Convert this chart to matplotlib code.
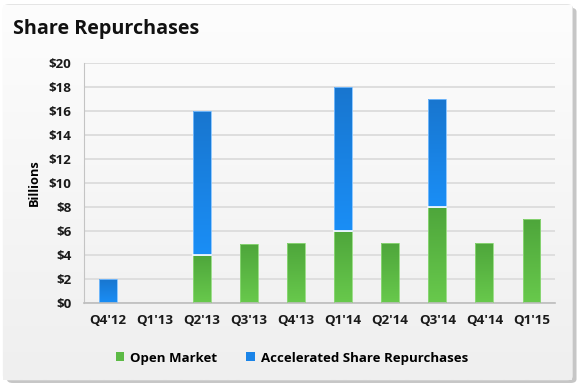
import numpy as np
import matplotlib
matplotlib.use("Agg")
import matplotlib.pyplot as plt
from matplotlib.patches import FancyBboxPatch, Patch
from matplotlib.colors import LinearSegmentedColormap

# values in $ billions
quarters = ["Q4'12", "Q1'13", "Q2'13", "Q3'13", "Q4'13",
            "Q1'14", "Q2'14", "Q3'14", "Q4'14", "Q1'15"]
open_market = [0, 0, 4, 4.9, 5, 6, 5, 8, 5, 7]
accelerated = [2, 0, 12, 0, 0, 12, 0, 9, 0, 0]
yticks = [0, 2, 4, 6, 8, 10, 12, 14, 16, 18, 20]

plt.rcParams['font.family'] = ['Open Sans', 'DejaVu Sans']
plt.rcParams['font.weight'] = 'bold'

fig = plt.figure(figsize=(5.8, 3.9), dpi=100)
fig.patch.set_facecolor('white')

# card background with shadow
shadow = FancyBboxPatch((0.012, 0.018), 0.982, 0.962, boxstyle="round,pad=0,rounding_size=0.01",
                        transform=fig.transFigure, facecolor='#b8b8b8', edgecolor='none',
                        zorder=-3, alpha=0.8)
card = FancyBboxPatch((0.006, 0.026), 0.981, 0.962, boxstyle="round,pad=0,rounding_size=0.01",
                      transform=fig.transFigure, facecolor='#f6f6f6', edgecolor='#e2e2e2',
                      linewidth=0.8, zorder=-2)
fig.patches.extend([shadow, card])
# soft vertical gradient inside the card
bg = fig.add_axes([0.006, 0.026, 0.981, 0.962], zorder=-1)
bg.imshow(np.linspace(1, 0, 256).reshape(-1, 1),
          cmap=LinearSegmentedColormap.from_list('bg', ['#efefef', '#fdfdfd']),
          aspect='auto', extent=[0, 1, 0, 1])
bg.axis('off')

ax = fig.add_axes([0.145, 0.223, 0.812, 0.615])
ax.patch.set_alpha(0)

x = np.arange(len(quarters))
w = 0.38
g_bars = ax.bar(x, open_market, w, color='none', edgecolor='#8fd97a', linewidth=0.6, zorder=3)
b_bars = ax.bar(x, accelerated, w, bottom=open_market, color='none', edgecolor='#7ec0ff',
                linewidth=0.6, zorder=3)

green_cm = LinearSegmentedColormap.from_list('g', ['#68c94c', '#4ea63b'])
blue_cm = LinearSegmentedColormap.from_list('b', ['#1a8ef6', '#1876cf'])
grad = np.linspace(0, 1, 128).reshape(-1, 1)
for bars, cm in ((g_bars, green_cm), (b_bars, blue_cm)):
    for b in bars:
        if b.get_height() <= 0:
            b.set_visible(False)
            continue
        x0, y0 = b.get_x(), b.get_y()
        im = ax.imshow(grad, cmap=cm, origin='lower', aspect='auto', zorder=2,
                       extent=[x0, x0 + b.get_width(), y0, y0 + b.get_height()])
        im.set_clip_path(b)

# thin white split between stacked segments
for xi, om, ac in zip(x, open_market, accelerated):
    if om > 0 and ac > 0:
        ax.plot([xi - w / 2, xi + w / 2], [om, om], color='white', lw=1.2, zorder=4)

ax.set_xlim(-0.5, 9.5)
ax.set_ylim(0, 20)
ax.set_yticks(yticks)
ax.set_yticklabels(['$%d' % v for v in yticks])
ax.set_xticks(x)
ax.set_xticklabels(quarters)
ax.tick_params(length=0, labelsize=9.6, colors='#1a1a1a')
ax.tick_params(axis='y', pad=9)
ax.tick_params(axis='x', pad=8)
ax.grid(axis='y', color='#dedede', linewidth=1.4, zorder=0)
ax.set_axisbelow(True)
for s in ['top', 'right']:
    ax.spines[s].set_visible(False)
ax.spines['left'].set_color('#c4c4c4')
ax.spines['bottom'].set_color('#bdbdbd')
ax.spines['bottom'].set_linewidth(1.2)
ax.set_ylabel('Billions', fontsize=9.2, fontweight='bold')
ax.yaxis.set_label_coords(-0.092, 0.5)

handles = [Patch(facecolor='#5cba45', edgecolor='none'), Patch(facecolor='#1a84e8', edgecolor='none')]
fig.legend(handles, ['Open Market', 'Accelerated Share Repurchases'], loc='center',
           bbox_to_anchor=(0.503, 0.082), ncol=2, frameon=False, fontsize=9.5,
           handlelength=0.65, handleheight=0.65, handletextpad=0.45, columnspacing=2.2)

fig.text(0.022, 0.925, 'Share Repurchases', fontsize=14.2, fontweight='bold',
         color='#111111', va='center', ha='left')

fig.savefig('out.png', dpi=100, facecolor='white')
